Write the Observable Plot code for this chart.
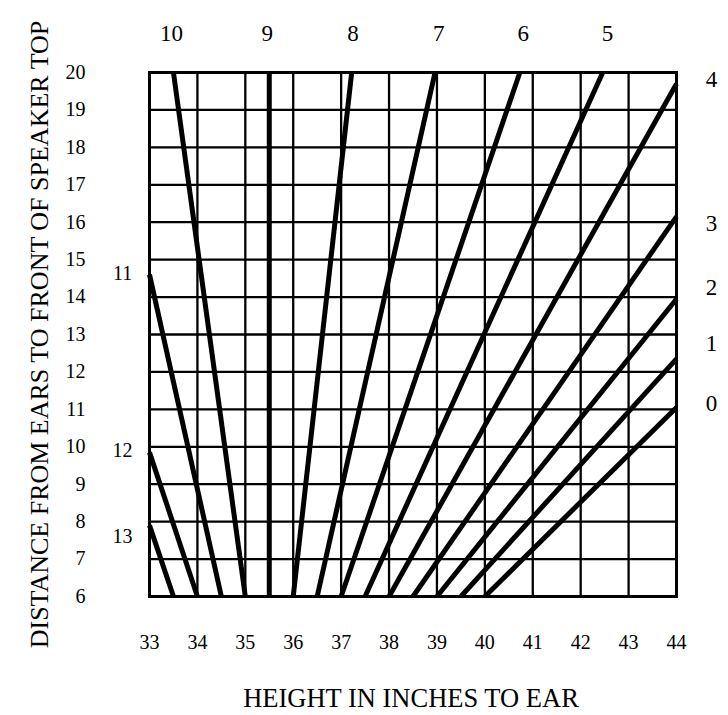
<!DOCTYPE html>
<html>
<head>
<meta charset="utf-8">
<script src="https://cdn.jsdelivr.net/npm/d3@7"></script>
<script src="https://cdn.jsdelivr.net/npm/@observablehq/plot@0.6"></script>
<style>
  html, body { margin: 0; padding: 0; background: #fff; }
</style>
</head>
<body>
<div id="chart"></div>
<script>
// ---- data ----
const xTicks = [33, 34, 35, 36, 37, 38, 39, 40, 41, 42, 43, 44];
const yTicks = [6, 7, 8, 9, 10, 11, 12, 13, 14, 15, 16, 17, 18, 19, 20];

const lineNames = ["13", "12", "11", "10", "9", "8", "7", "6", "5", "4", "3", "2", "1", "0"];
const startX = [33.5, 34, 34.5, 35, 35.5, 36, 36.5, 37, 37.5, 38, 38.5, 39, 39.5, 40];
const startY = [6, 6, 6, 6, 6, 6, 6, 6, 6, 6, 6, 6, 6, 6];
const endX = [33, 33, 33, 33.5, 35.5, 37.22, 38.96, 40.73, 42.46, 44, 44, 44, 44, 44];
const endY = [7.9, 9.85, 14.6, 20, 20, 20, 20, 20, 20, 19.7, 16.15, 13.95, 12.35, 11.05];

const topLabels = ["10", "9", "8", "7", "6", "5"];
const topLabelX = [33.46, 35.46, 37.25, 39.04, 40.8, 42.56];
const rightLabels = ["4", "3", "2", "1", "0"];
const rightLabelY = [19.81, 15.97, 14.26, 12.76, 11.16];
const leftLabels = ["11", "12", "13"];
const leftLabelY = [14.63, 9.9, 7.6];

const xTitle = "HEIGHT IN INCHES TO EAR";
const yTitle = "DISTANCE FROM EARS TO FRONT OF SPEAKER TOP";

// ---- layout ----
const W = 728, H = 715;
const mL = 149, mR = 52, mT = 72, mB = 119;

const lines = lineNames.map((name, i) => ({
  name, x1: startX[i], y1: startY[i], x2: endX[i], y2: endY[i]
}));

const font = "'Liberation Serif', 'Times New Roman', Times, serif";

const chart = Plot.plot({
  width: W,
  height: H,
  marginLeft: mL,
  marginRight: mR,
  marginTop: mT,
  marginBottom: mB,
  style: { fontFamily: font, background: "#fff", color: "#000", overflow: "visible" },
  x: { domain: [33, 44], label: null },
  y: { domain: [6, 20], label: null },
  marks: [
    Plot.gridX(xTicks, { stroke: "#000", strokeOpacity: 1, strokeWidth: 2.3 }),
    Plot.gridY(yTicks, { stroke: "#000", strokeOpacity: 1, strokeWidth: 2.3 }),
    Plot.frame({ stroke: "#000", strokeWidth: 3 }),
    Plot.link(lines, {
      x1: "x1", y1: "y1", x2: "x2", y2: "y2",
      stroke: "#000", strokeWidth: 5, strokeLinecap: "butt"
    }),
    Plot.axisX(xTicks, { tickSize: 0, tickPadding: 38, fontSize: 20, label: null }),
    Plot.axisY(yTicks, { tickSize: 0, tickPadding: 64, fontSize: 20, label: null }),
    Plot.text(topLabels, {
      x: (d, i) => topLabelX[i], text: d => d,
      frameAnchor: "top", dy: -48, textAnchor: "middle", fontSize: 23, fill: "#000"
    }),
    Plot.text(rightLabels, {
      y: (d, i) => rightLabelY[i], text: d => d,
      frameAnchor: "right", dx: 35, textAnchor: "middle", fontSize: 23, fill: "#000"
    }),
    Plot.text(leftLabels, {
      y: (d, i) => leftLabelY[i], text: d => d,
      frameAnchor: "left", dx: -27, textAnchor: "middle", fontSize: 20, fill: "#000"
    }),
    Plot.text([xTitle], {
      text: d => d, frameAnchor: "bottom", dy: 110, dx: -2, textAnchor: "middle", fontSize: 26.5, fill: "#000"
    }),
    Plot.text([yTitle], {
      text: d => d, frameAnchor: "left", dx: -110, rotate: -90, textAnchor: "middle", fontSize: 26, fill: "#000"
    })
  ]
});

document.getElementById("chart").appendChild(chart);
</script>
</body>
</html>
